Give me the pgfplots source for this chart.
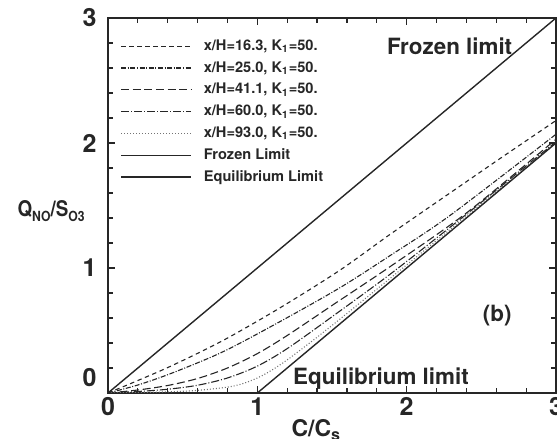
\documentclass[border=0pt]{standalone}
\usepackage{pgfplots}
\pgfplotsset{compat=1.18}
\usepackage{fontspec}
\setmainfont{TeX Gyre Heros}
\definecolor{ink}{gray}{0.15}
\newcommand{\sub}[1]{\raisebox{-0.45ex}{\fontsize{7}{8}\selectfont #1}}
\begin{document}
\begin{tikzpicture}
\begin{axis}[
  width=224pt, height=187.5pt, scale only axis,
  xmin=0, xmax=3, ymin=0, ymax=3,
  xtick={0,1,2,3}, ytick={0,1,2,3},
  yticklabels={{\raisebox{16pt}{0}},1,2,3},
  minor tick num=4,
  tick align=inside,
  major tick length=3.5pt, minor tick length=2.5pt,
  axis line style={line width=1.2pt, draw=ink},
  every tick/.style={draw=ink, line width=0.6pt},
  /pgf/number format/assume math mode=true,
  ticklabel style={font=\bfseries\fontsize{12.5}{14}\selectfont, text=ink},
  xticklabel style={inner sep=0pt, yshift=-2pt},
  yticklabel style={inner sep=0pt, xshift=-5.5pt},
  xlabel={C/C\textsubscript{s}},
  ylabel={\scalebox{0.87}[1]{Q\sub{NO}/S\sub{O3}}},
  every axis x label/.style={at={(axis description cs:0.465,0)}, anchor=north, inner sep=0pt, yshift=-13pt, font=\bfseries\fontsize{11.5}{13}\selectfont, text=ink},
  every axis y label/.style={at={(axis description cs:0,0.485)}, anchor=east, inner sep=0pt, xshift=-11.5pt, font=\bfseries\fontsize{10.8}{13}\selectfont, text=ink},
  legend style={at={(axis description cs:0.0268,0.9445)}, anchor=north west, draw=none, fill=none,
    inner xsep=0pt, inner ysep=0pt, column sep=6pt, row sep=3.9pt,
    nodes={inner sep=0pt, text height=5.5pt, text depth=1.5pt},
    font=\bfseries\fontsize{7.3}{8}\selectfont, text=ink, cells={anchor=west}},
  legend image code/.code={\draw[#1] (0pt,0pt) -- (35pt,0pt);},
  every axis plot/.append style={line width=0.55pt, draw=black!85},
]
% x/H = 16.3
\addplot[smooth, dash pattern=on 2.2pt off 1.8pt] coordinates {
(0,0) (0.2,0.10) (0.43,0.22) (0.77,0.42) (1.15,0.68) (1.55,0.98) (1.89,1.27) (2.29,1.60) (2.6,1.855) (3,2.18)};
\addlegendentry{x/H=16.3, K\textsubscript{1}=50.}
% x/H = 25.0
\addplot[smooth, dash pattern=on 2.5pt off 0.8pt on 0.5pt off 0.8pt] coordinates {
(0,0) (0.2,0.064) (0.43,0.16) (0.77,0.33) (1.15,0.57) (1.55,0.84) (1.89,1.10) (2.29,1.42) (3,2.07)};
\addlegendentry{x/H=25.0, K\textsubscript{1}=50.}
% x/H = 41.1
\addplot[smooth, dash pattern=on 4pt off 1.8pt] coordinates {
(0,0) (0.2,0.024) (0.4,0.06) (0.6,0.116) (0.8,0.20) (1.0,0.315) (1.2,0.46) (1.5,0.70) (1.9,1.02) (2.4,1.44) (3,2.03)};
\addlegendentry{x/H=41.1, K\textsubscript{1}=50.}
% x/H = 60.0
\addplot[smooth, dash pattern=on 4pt off 1pt on 0.5pt off 1pt] coordinates {
(0,0) (0.2,0.012) (0.4,0.03) (0.6,0.062) (0.8,0.12) (1.0,0.215) (1.2,0.355) (1.5,0.61) (1.9,0.96) (2.4,1.43) (3,2.01)};
\addlegendentry{x/H=60.0, K\textsubscript{1}=50.}
% x/H = 93.0
\addplot[smooth, draw=black!55, dash pattern=on 0.5pt off 1pt] coordinates {
(0,0) (0.4,0.009) (0.6,0.021) (0.8,0.047) (0.9,0.074) (1.0,0.12) (1.1,0.185) (1.2,0.265) (1.35,0.40) (1.5,0.54) (1.7,0.733) (2.0,1.025) (2.4,1.415) (3,2.0)};
\addlegendentry{x/H=93.0, K\textsubscript{1}=50.}
% Frozen limit
\addplot[line width=0.7pt] coordinates {(0,0) (3,3)};
\addlegendentry{Frozen Limit}
% Equilibrium limit
\addplot[line width=0.7pt] coordinates {(1,0) (3,2)};
\addlegendentry{Equilibrium Limit}

\node[anchor=base west, inner sep=0pt, font=\bfseries\fontsize{11.2}{13}\selectfont, text=ink] at (axis cs:1.866,2.704) {Frozen limit};
\node[anchor=base west, inner sep=0pt, font=\bfseries\fontsize{11.2}{13}\selectfont, text=ink] at (axis cs:1.237,0.064) {Equilibrium limit};
\node[anchor=base west, inner sep=0pt, font=\bfseries\fontsize{11.2}{13}\selectfont, text=ink] at (axis cs:2.508,0.568) {(b)};
\end{axis}
\pgfresetboundingbox
\path ([shift={(-54pt,-23pt)}]current axis.south west) rectangle ([shift={(224.5pt,196.5pt)}]current axis.south west);
\end{tikzpicture}
\end{document}
